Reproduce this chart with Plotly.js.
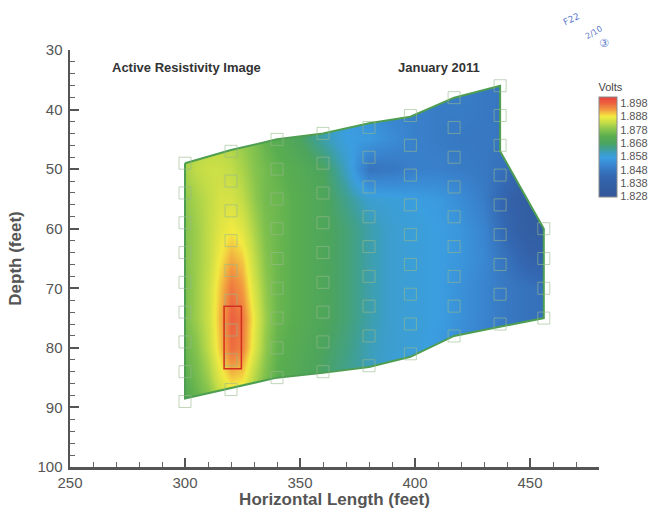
<!DOCTYPE html>
<html><head><meta charset="utf-8">
<script src="https://cdn.plot.ly/plotly-3.0.1.min.js"></script>
<style>html,body{margin:0;padding:0;background:#fff}#chart{width:656px;height:509px}</style>
</head><body><div id="chart"></div>
<script>
// Grid of horizontal positions (feet) and depths (feet) where voltage was read
const gridX = [300,305,310,315,320,325,330,335,340,350,360,370,380,390,400,410,420,430,440,450,460];
const gridDepth = [35,40,45,50,55,60,65,70,75,80,85,90];
// Volts per depth row (one value per gridX)
const volts35 = [1.879,1.880,1.880,1.880,1.879,1.878,1.876,1.874,1.872,1.868,1.862,1.857,1.853,1.851,1.850,1.849,1.849,1.848,1.847,1.845,1.844];
const volts40 = [1.879,1.880,1.880,1.880,1.879,1.878,1.876,1.874,1.872,1.868,1.862,1.857,1.854,1.851,1.850,1.849,1.849,1.848,1.847,1.845,1.843];
const volts45 = [1.880,1.881,1.882,1.882,1.881,1.879,1.877,1.874,1.872,1.868,1.862,1.857,1.856,1.853,1.850,1.849,1.848,1.848,1.847,1.844,1.842];
const volts50 = [1.881,1.883,1.884,1.884,1.883,1.881,1.878,1.876,1.874,1.871,1.868,1.860,1.847,1.848,1.850,1.850,1.849,1.848,1.845,1.840,1.838];
const volts55 = [1.879,1.881,1.883,1.885,1.885,1.883,1.879,1.876,1.875,1.872,1.869,1.864,1.859,1.858,1.857,1.856,1.853,1.849,1.840,1.835,1.834];
const volts60 = [1.878,1.880,1.883,1.886,1.888,1.886,1.881,1.877,1.875,1.872,1.869,1.866,1.862,1.859,1.858,1.857,1.855,1.851,1.842,1.835,1.834];
const volts65 = [1.878,1.880,1.883,1.888,1.892,1.890,1.883,1.878,1.875,1.872,1.869,1.866,1.862,1.859,1.858,1.857,1.855,1.852,1.846,1.840,1.839];
const volts70 = [1.877,1.880,1.884,1.890,1.896,1.893,1.885,1.879,1.875,1.872,1.869,1.866,1.862,1.859,1.858,1.857,1.854,1.851,1.848,1.846,1.845];
const volts75 = [1.877,1.880,1.884,1.891,1.898,1.896,1.887,1.880,1.875,1.872,1.869,1.866,1.862,1.859,1.858,1.857,1.854,1.851,1.848,1.846,1.845];
const volts80 = [1.875,1.878,1.883,1.890,1.897,1.895,1.886,1.879,1.874,1.871,1.868,1.865,1.861,1.859,1.858,1.856,1.853,1.850,1.848,1.846,1.845];
const volts85 = [1.873,1.876,1.880,1.886,1.890,1.889,1.882,1.877,1.873,1.870,1.867,1.864,1.861,1.858,1.857,1.856,1.853,1.850,1.848,1.846,1.845];
const volts90 = [1.871,1.873,1.876,1.880,1.883,1.882,1.878,1.875,1.872,1.869,1.866,1.863,1.860,1.858,1.857,1.856,1.853,1.850,1.848,1.846,1.845];

// Survey boundary (feet, depth)
const boundaryX     = [300, 300, 340, 360, 380, 398, 417, 437, 456, 456, 437, 437, 417, 398, 380, 360, 340, 320, 300];
const boundaryDepth = [49, 88.5, 85, 84.2, 83.2, 81.5, 78, 76.5, 75, 60, 47, 36, 38, 41.2, 42.3, 44, 45, 46.8, 49];

// Electrode positions
const electrodeX = [300,300,300,300,300,300,300,300,300, 320,320,320,320,320,320,320,320,320,
  340,340,340,340,340,340,340,340,340, 360,360,360,360,360,360,360,360,360,
  380,380,380,380,380,380,380,380,380, 398,398,398,398,398,398,398,398,398,
  417,417,417,417,417,417,417,417,417, 437,437,437,437,437,437,437,437,437, 456,456,456,456];
const electrodeDepth = [49,54,59,64,69,74,79,84,89, 47,52,57,62,67,72,77,82,87,
  45,50,55,60,65,70,75,80,85, 44,49,54,59,64,69,74,79,84,
  43,48,53,58,63,68,73,78,83, 41,46,51,56,61,66,71,76,81,
  38,43,48,53,58,63,68,73,78, 36,41,46,51,56,61,66,71,76, 60,65,70,75];

// Highlighted zone
const hotZoneX = [317, 324.5];
const hotZoneDepth = [73, 83.5];

const colorTicks = [1.898,1.888,1.878,1.868,1.858,1.848,1.838,1.828];
const xRange = [250, 480];
const depthRange = [100, 30];

const voltsGrid = [volts35,volts40,volts45,volts50,volts55,volts60,volts65,volts70,volts75,volts80,volts85,volts90];

const colorscale = [
  [0.00,'#34589a'],[0.14,'#3360a6'],[0.207,'#3468b2'],[0.273,'#3878c2'],[0.327,'#3a88d2'],
  [0.393,'#3b9ee0'],[0.433,'#3c9ec8'],[0.487,'#40a08e'],[0.54,'#4ca45e'],[0.607,'#5aae50'],
  [0.673,'#86c44e'],[0.74,'#c2dc48'],[0.807,'#f3ea42'],[0.873,'#f29a40'],[0.94,'#ec6040'],[1.0,'#e8403a']
];

// Mask outside the boundary (outer rectangle clockwise, boundary counter-clockwise)
const xl = Math.min(...xRange), xr = Math.max(...xRange);
const yt = Math.min(...depthRange), yb = Math.max(...depthRange);
const maskX = [boundaryX[0]].concat(boundaryX, [boundaryX[0], xr, xr, xl, xl, boundaryX[0]]);
const maskY = [yt].concat(boundaryDepth, [yt, yt, yb, yb, yt, yt]);

const traces = [
  {type:'heatmap', x:gridX, y:gridDepth, z:voltsGrid, zsmooth:'best',
   zmin:1.8275, zmax:1.9025, colorscale:colorscale, hoverinfo:'skip',
   colorbar:{
     title:{text:'Volts', side:'top', font:{family:'Liberation Sans, Arial', size:11, color:'#444'}},
     x:0.998, xanchor:'left', xpad:0, ypad:0, y:0.928, yanchor:'top',
     len:117, lenmode:'pixels', thickness:18, thicknessmode:'pixels',
     tickvals:colorTicks, ticktext:colorTicks.map(v=>v.toFixed(3)), ticks:'',
     tickfont:{family:'Liberation Sans, Arial', size:11, color:'#555'},
     outlinecolor:'#8a8a8a', outlinewidth:1
   }},
  {type:'scatter', mode:'lines', x:maskX, y:maskY, fill:'toself', fillcolor:'#ffffff',
   line:{width:0, color:'rgba(0,0,0,0)', simplify:false}, hoverinfo:'skip', showlegend:false},
  {type:'scatter', mode:'lines', x:boundaryX, y:boundaryDepth,
   line:{color:'#4e9e52', width:2}, hoverinfo:'skip', showlegend:false},
  {type:'scatter', mode:'markers', x:electrodeX, y:electrodeDepth,
   marker:{symbol:'square-open', size:12, color:'rgba(150,185,140,0.6)', line:{width:1}},
   hoverinfo:'skip', showlegend:false}
];

const axisFont = {family:'Liberation Sans, Arial', size:15, color:'#555'};
const titleFont = {family:'Liberation Sans, Arial', size:17, color:'#555', weight:'bold'};

const layout = {
  width:656, height:509,
  margin:{l:70, r:56, t:50, b:42},
  paper_bgcolor:'#ffffff', plot_bgcolor:'#ffffff',
  showlegend:false,
  xaxis:{range:xRange, showgrid:false, zeroline:false, showline:true, linecolor:'#555', linewidth:2.5,
    ticks:'inside', ticklen:9, tickwidth:2, tickcolor:'#555', tickvals:[250,300,350,400,450],
    minor:{dtick:10, tick0:250, ticks:'inside', ticklen:5, tickwidth:1, tickcolor:'#666'},
    tickfont:axisFont, ticklabelstandoff:0,
    title:{text:'<b>Horizontal Length (feet)</b>', font:titleFont, standoff:2}},
  yaxis:{range:depthRange, showgrid:false, zeroline:false, showline:true, linecolor:'#555', linewidth:2.5,
    ticks:'inside', ticklen:9, tickwidth:2, tickcolor:'#555', tickvals:[30,40,50,60,70,80,90,100],
    minor:{dtick:2, tick0:30, ticks:'inside', ticklen:5, tickwidth:1, tickcolor:'#666'},
    tickfont:axisFont, ticklabelstandoff:2,
    title:{text:'<b>Depth (feet)</b>', font:titleFont, standoff:12}},
  shapes:[
    {type:'rect', xref:'x', yref:'y', x0:hotZoneX[0], x1:hotZoneX[1], y0:hotZoneDepth[0], y1:hotZoneDepth[1],
     line:{color:'#d2301e', width:1.5}, fillcolor:'rgba(0,0,0,0)'}
  ],
  annotations:[
    {text:'<b>Active Resistivity Image</b>', xref:'paper', yref:'paper', x:0.075, y:0.957,
     xanchor:'left', yanchor:'middle', showarrow:false, font:{family:'Liberation Sans, Arial', size:13, color:'#333'}},
    {text:'<b>January 2011</b>', xref:'paper', yref:'paper', x:0.617, y:0.957,
     xanchor:'left', yanchor:'middle', showarrow:false, font:{family:'Liberation Sans, Arial', size:13, color:'#333'}},
    {text:'F22', xref:'paper', yref:'paper', x:0.972, y:1.1, showarrow:false, textangle:-25,
     font:{family:'DejaVu Sans', size:9, color:'#5c78cc'}},
    {text:'2/10', xref:'paper', yref:'paper', x:1.015, y:1.068, showarrow:false, textangle:-30,
     font:{family:'DejaVu Sans', size:8, color:'#5c78cc'}},
    {text:'③', xref:'paper', yref:'paper', x:1.022, y:1.035, showarrow:false,
     font:{family:'DejaVu Sans', size:11, color:'#5c78cc'}}
  ]
};

Plotly.newPlot('chart', traces, layout, {displayModeBar:false, staticPlot:true});
</script>
</body></html>
